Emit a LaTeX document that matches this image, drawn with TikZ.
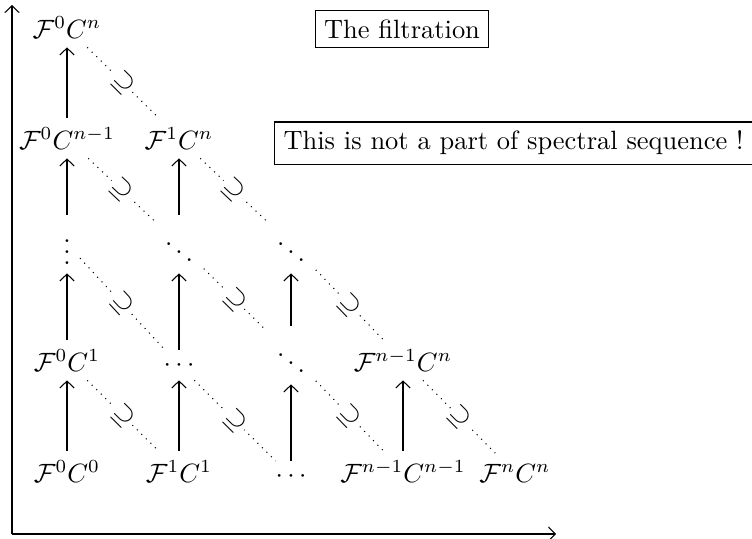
\documentclass[tikz,border=0pt]{standalone}
\usepackage{amssymb}
\usetikzlibrary{arrows.meta}
\begin{document}
\begin{tikzpicture}[x=0.378pt,y=-0.378pt,
  ent/.style={anchor=base},
  up/.style={-{Straight Barb[length=2.6pt,width=5.4pt]}},
  inc/.style={dotted},
  lab/.style={sloped,fill=white,inner sep=1pt},
  boxed/.style={draw,inner sep=3.4pt}]
\useasboundingbox (0,0) rectangle (752,538);
% axes
\coordinate (O) at (12,534);
\coordinate (Ytop) at (12,5);
\coordinate (Xend) at (556,534);
\draw[up] (O) -- (Ytop);
\draw[up] (O) -- (Xend);
% row 0
\node[ent] (a00) at (67,38) {$\mathcal{F}^0C^n$};
% row 1
\node[ent] (a10) at (67,149) {$\mathcal{F}^0C^{n-1}$};
\node[ent] (a11) at (179,149) {$\mathcal{F}^1C^n$};
% row 2
\node[ent] (a20) at (67,264) {$\vdots$};
\node[ent] (a21) at (179,264) {$\ddots$};
\node[ent] (a22) at (291,264) {$\ddots$};
% row 3
\node[ent] (a30) at (67,371) {$\mathcal{F}^0C^1$};
\node[ent] (a31) at (179,371) {$\cdots$};
\node[ent] (a32) at (291,375) {$\ddots$};
\node[ent] (a33) at (403,371) {$\mathcal{F}^{n-1}C^n$};
% row 4
\node[ent] (a40) at (67,482) {$\mathcal{F}^0C^0$};
\node[ent] (a41) at (179,482) {$\mathcal{F}^1C^1$};
\node[ent] (a42) at (291,482) {$\cdots$};
\node[ent] (a43) at (403,482) {$\mathcal{F}^{n-1}C^{n-1}$};
\node[ent] (a44) at (515,482) {$\mathcal{F}^nC^n$};
% vertical arrows
\draw[up] (a10) -- (a00);
\draw[up] (a20) -- (a10);
\draw[up] (a30) -- (a20);
\draw[up] (a40) -- (a30);
\draw[up] (a21) -- (a11);
\draw[up] (a31) -- (a21);
\draw[up] (a41) -- (a31);
\draw[up] (a32) -- (a22);
\draw[up] (a42) -- (a32);
\draw[up] (a43) -- (a33);
% diagonal inclusions
\foreach \s/\t in {a00/a11, a10/a21, a11/a22, a20/a31, a21/a32, a22/a33, a30/a41, a31/a42, a32/a43, a33/a44}
  \draw[inc] (\s) -- node[lab] {$\supseteq$} (\t);
% boxes
\node[boxed] (title) at (402,29) {The filtration};
\node[boxed,anchor=west] (note) at (274,143) {This is not a part of spectral sequence !};
\end{tikzpicture}
\end{document}
